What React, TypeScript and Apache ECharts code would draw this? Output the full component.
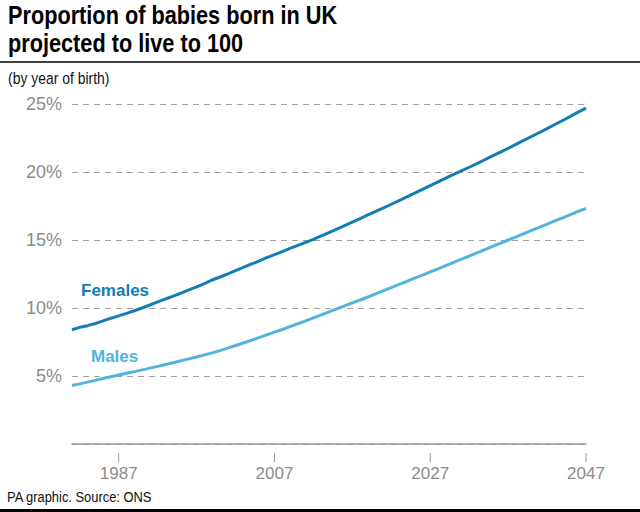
import React, { useEffect, useRef } from "react";
import * as echarts from "echarts";

const years = [
  1981, 1982, 1983, 1984, 1985, 1986, 1987, 1988, 1989, 1990,
  1991, 1992, 1993, 1994, 1995, 1996, 1997, 1998, 1999, 2000,
  2001, 2002, 2003, 2004, 2005, 2006, 2007, 2008, 2009, 2010,
  2011, 2012, 2013, 2014, 2015, 2016, 2017, 2018, 2019, 2020,
  2021, 2022, 2023, 2024, 2025, 2026, 2027, 2028, 2029, 2030,
  2031, 2032, 2033, 2034, 2035, 2036, 2037, 2038, 2039, 2040,
  2041, 2042, 2043, 2044, 2045, 2046, 2047,
];

const females = [
  8.4, 8.58, 8.7, 8.86, 9.05, 9.25, 9.42, 9.6, 9.8, 10.0,
  10.22, 10.45, 10.66, 10.88, 11.1, 11.33, 11.55, 11.8, 12.06, 12.28,
  12.5, 12.75, 12.98, 13.22, 13.45, 13.7, 13.92, 14.15, 14.38, 14.6,
  14.82, 15.05, 15.3, 15.55, 15.8, 16.06, 16.32, 16.58, 16.84, 17.1,
  17.36, 17.63, 17.9, 18.17, 18.45, 18.72, 19.0, 19.27, 19.55, 19.83,
  20.08, 20.35, 20.62, 20.9, 21.18, 21.46, 21.74, 22.03, 22.32, 22.61,
  22.9, 23.19, 23.49, 23.79, 24.09, 24.4, 24.7,
];

const males = [
  4.3, 4.42, 4.55, 4.68, 4.82, 4.95, 5.08, 5.2, 5.32, 5.45,
  5.58, 5.71, 5.85, 5.98, 6.12, 6.26, 6.4, 6.55, 6.7, 6.87,
  7.05, 7.24, 7.43, 7.62, 7.82, 8.02, 8.22, 8.42, 8.63, 8.84,
  9.05, 9.27, 9.49, 9.71, 9.93, 10.15, 10.37, 10.59, 10.81, 11.04,
  11.27, 11.5, 11.73, 11.96, 12.19, 12.42, 12.65, 12.88, 13.12, 13.35,
  13.59, 13.82, 14.06, 14.29, 14.53, 14.76, 15.0, 15.23, 15.46, 15.7,
  15.93, 16.16, 16.4, 16.63, 16.86, 17.1, 17.33,
];

const yTicks = [5, 10, 15, 20, 25];
const xTicks = [1987, 2007, 2027, 2047];

const titleLines = ["Proportion of babies born in UK", "projected to live to 100"];
const subtitle = "(by year of birth)";
const footer = "PA graphic. Source: ONS";
const seriesNames = ["Females", "Males"];

const FEMALE_COLOR = "#137db6";
const MALE_COLOR = "#52b3df";
const GREY = "#8c8c8c";
const SANS = "'Liberation Sans', Arial, sans-serif";

export default function App() {
  const ref = useRef<HTMLDivElement>(null);

  useEffect(() => {
    if (!ref.current) return;
    const chart = echarts.init(ref.current, undefined, { renderer: "svg" });

    const xMin = years[0];
    const xMax = years[years.length - 1];

    chart.setOption({
      animation: false,
      backgroundColor: "#ffffff",
      grid: { left: 72, right: 54, top: 104, bottom: 68 },
      xAxis: [
        {
          type: "value",
          min: xMin,
          max: xMax,
          axisLine: { show: true, lineStyle: { color: "#999999", width: 1.5 } },
          axisTick: { show: false },
          axisLabel: { show: false },
          splitLine: { show: false },
        },
        {
          type: "value",
          min: xMin,
          max: xMax,
          position: "bottom",
          offset: 9,
          axisLine: { show: false },
          axisTick: { show: false },
          axisLabel: {
            show: true,
            customValues: xTicks,
            color: GREY,
            fontSize: 17,
            fontFamily: SANS,
            margin: 12,
            formatter: (v: number) => String(v),
          },
          splitLine: { show: false },
        },
      ],
      yAxis: {
        type: "value",
        min: 0,
        max: 25,
        interval: 5,
        axisLine: { show: false },
        axisTick: { show: false },
        axisLabel: {
          customValues: yTicks,
          color: GREY,
          fontSize: 18,
          fontFamily: SANS,
          margin: 10,
          formatter: (v: number) => (v === 0 ? "" : v + "%"),
        },
        splitLine: {
          show: true,
          lineStyle: { color: "#a0a0a0", type: [6, 5], width: 1 },
        },
      },
      series: [
        {
          name: seriesNames[0],
          type: "line",
          xAxisIndex: 0,
          showSymbol: false,
          data: years.map((y, i) => [y, females[i]]),
          lineStyle: { color: FEMALE_COLOR, width: 3 },
          itemStyle: { color: FEMALE_COLOR },
          z: 3,
        },
        {
          name: seriesNames[1],
          type: "line",
          xAxisIndex: 0,
          showSymbol: false,
          data: years.map((y, i) => [y, males[i]]),
          lineStyle: { color: MALE_COLOR, width: 3 },
          itemStyle: { color: MALE_COLOR },
          z: 3,
        },
      ],
    });

    const baseY = chart.convertToPixel({ yAxisIndex: 0 }, 0) as number;
    const tickEls = xTicks.map((v) => {
      const px = chart.convertToPixel({ xAxisIndex: 0 }, v) as number;
      return {
        type: "line",
        silent: true,
        shape: { x1: px, y1: baseY + 9, x2: px, y2: baseY + 18 },
        style: { stroke: "#9a9a9a", lineWidth: 1 },
      };
    });

    chart.setOption({
      graphic: [
        {
          type: "text",
          x: 8,
          y: 2,
          scaleX: 0.835,
          style: {
            text: titleLines[0],
            font: `bold 26px ${SANS}`,
            fill: "#000000",
          },
        },
        {
          type: "text",
          x: 8,
          y: 30,
          scaleX: 0.835,
          style: {
            text: titleLines[1],
            font: `bold 26px ${SANS}`,
            fill: "#000000",
          },
        },
        {
          type: "line",
          shape: { x1: 0, y1: 62, x2: 640, y2: 62 },
          style: { stroke: "#000000", lineWidth: 1.5 },
        },
        {
          type: "text",
          x: 8,
          y: 69,
          scaleX: 0.82,
          style: {
            text: subtitle,
            font: `17px ${SANS}`,
            fill: "#111111",
          },
        },
        {
          type: "text",
          left: 81,
          top: 282,
          style: {
            text: seriesNames[0],
            font: `bold 17px ${SANS}`,
            fill: FEMALE_COLOR,
          },
        },
        {
          type: "text",
          left: 91,
          top: 348,
          style: {
            text: seriesNames[1],
            font: `bold 17px ${SANS}`,
            fill: MALE_COLOR,
          },
        },
        {
          type: "text",
          x: 7,
          y: 489,
          scaleX: 0.86,
          style: {
            text: footer,
            font: `15px ${SANS}`,
            fill: "#111111",
          },
        },
        {
          type: "rect",
          shape: { x: 0, y: 509, width: 640, height: 3 },
          style: { fill: "#000000" },
        },
        ...tickEls,
      ],
    });

    return () => chart.dispose();
  }, []);

  return (
    <div
      ref={ref}
      style={{ position: "fixed", left: 0, top: 0, width: 640, height: 512 }}
    />
  );
}
